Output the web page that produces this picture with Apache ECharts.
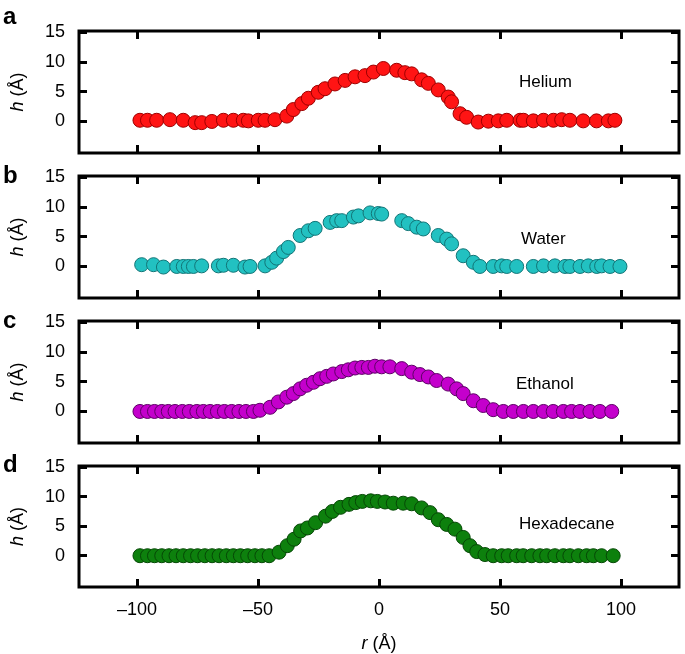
<!DOCTYPE html>
<html><head><meta charset="utf-8">
<script src="https://cdn.jsdelivr.net/npm/echarts@6/dist/echarts.min.js"></script>
<style>html,body{margin:0;padding:0;background:#fff}#c{width:685px;height:654px}</style>
</head><body><div id="c"></div>
<script>
// Data (r in Å, h in Å)
const heliumR = [-98.8,-95.7,-91.9,-86.4,-80.9,-76,-73.3,-69.1,-64.3,-60.2,-56.1,-54,-49.9,-47.1,-43,-38.1,-35.4,-31.9,-29.2,-25.1,-22.3,-18.2,-14,-9.9,-5.8,-2.3,1.8,7.3,10.7,13.5,17.6,20.4,24.5,28.6,30,33.5,36.2,41,45.2,49.3,52.8,58.3,59.7,63.8,68,72.1,75.5,78.9,84.4,89.9,94.8,97.5];
const heliumH = [0.2,0.2,0.2,0.3,0.2,-0.2,-0.2,0,0.2,0.2,0.2,0.1,0.2,0.2,0.3,0.9,2.0,3.0,3.9,4.9,5.5,6.3,6.9,7.5,7.7,8.3,8.9,8.6,8.2,8.0,7.0,6.4,5.3,4.1,3.3,1.3,0.7,-0.1,0.05,0.1,0.2,0.2,0.2,0.1,0.2,0.2,0.3,0.2,0.1,0.1,0.1,0.2];

const waterR = [-98.1,-93.2,-89.1,-83.6,-80.9,-78.8,-76.7,-73.3,-66.4,-64.3,-60.2,-55.4,-53.3,-47.1,-44.3,-42.3,-39.5,-37.5,-32.6,-29.2,-26.4,-20.2,-17.5,-15.4,-10.6,-8.5,-3.7,-0.3,1.1,9.4,12.1,15.6,18.3,24.5,28,30,34.8,39,41.7,47.2,50.7,52.8,56.9,63.8,68,72.7,76.9,78.9,83.1,86.5,90,92,95.5,99.6];
const waterH = [0.3,0.3,-0.1,0,0,0,0,0.1,0.1,0.2,0.2,-0.1,0,0.1,0.7,1.4,2.5,3.2,5.2,6.0,6.4,7.4,7.7,7.7,8.3,8.5,9.0,8.9,8.8,7.7,7.2,6.6,6.3,5.2,4.6,3.8,1.8,0.7,0,0,0.1,0,0,0,0.1,0.1,0,0,0,0.1,0,0.1,0,0];

const ethanolR = [-98.8,-95.7,-92.8,-89.8,-87.1,-84.3,-81.3,-78.4,-75.3,-72.6,-69.8,-66.8,-63.9,-60.9,-57.9,-55,-51.9,-49.2,-45,-41.6,-38.1,-35.4,-32.6,-29.9,-27.1,-24.4,-21.6,-18.9,-15.4,-12.7,-9.9,-7.1,-4.4,-1.7,1.1,4.5,9.4,13.5,16.9,20.4,23.8,28.6,32.1,34.8,39,43.1,47.2,51.4,55.5,59.7,63.8,68,72,76.2,79.6,83.1,87.2,91.3,96.2];
const ethanolH = [0,0,0,0,0,0,0,0,0,0,0,0,0,0,0,0,0,0.2,0.7,1.6,2.4,3.0,3.8,4.4,4.9,5.5,5.9,6.3,6.7,7.0,7.3,7.4,7.4,7.6,7.5,7.5,7.2,6.6,6.2,5.8,5.2,4.6,3.8,3.0,1.8,1.0,0.3,0,0,0,0,0,0,0,0,0,0,0,0];

const hexadecaneR = [-98.8,-95.7,-92.8,-89.8,-86.8,-83.9,-80.9,-77.9,-75,-72,-69,-66.1,-63.1,-60.2,-57.3,-54.3,-51.3,-48.4,-45.4,-41.3,-37.9,-35.1,-32.4,-29.6,-26.2,-22.1,-19.3,-15.9,-12.4,-9.6,-6.9,-3.4,-0.7,2.5,5.9,10,13.5,17.6,21.1,24.5,28,31.4,34.8,37.6,40.4,43.8,47.2,50.7,53.4,56.9,59.6,63.1,66.5,69.3,72.7,76.2,78.9,82.4,85.8,88.6,92,96.8];
const hexadecaneH = [0,0,0,0,0,0,0,0,0,0,0,0,0,0,0,0,0,0,0,0.6,1.7,2.8,4.2,4.7,5.6,6.7,7.5,8.2,8.7,9.0,9.2,9.3,9.2,9.1,8.9,8.9,8.8,8.1,7.3,6.1,5.3,4.5,3.1,1.7,0.7,0.2,0,0,0,0,0,0,0,0,0,0,0,0,0,0,0,0];

const xTicks = [-100,-50,0,50,100];
const yTicks = [0,5,10,15];
const panelLetters = ['a','b','c','d'];
const panelNames = ['Helium','Water','Ethanol','Hexadecane'];

const panels = [
  {r: heliumR, h: heliumH, fill: '#ff1414', border: '#9e0000'},
  {r: waterR, h: waterH, fill: '#22c1c1', border: '#127577'},
  {r: ethanolR, h: ethanolH, fill: '#c400cc', border: '#5e0066'},
  {r: hexadecaneR, h: hexadecaneH, fill: '#0d800d', border: '#064806'}
];

const font = 'Liberation Sans, Arial, Helvetica, sans-serif';
const gridLeft = 79, gridWidth = 600, gridH = 122;
const tops = [31, 176, 321, 466];
const textY = [83, 240, 385, 525];
const textX = [519, 521, 516, 519];
const letterY = [18, 177, 322, 466];

const grid = [], xAxis = [], yAxis = [], series = [], graphic = [];
panels.forEach((p, i) => {
  grid.push({left: gridLeft, top: tops[i], width: gridWidth, height: gridH,
    show: true, borderColor: '#000', borderWidth: 3, backgroundColor: 'transparent'});
  const isLast = i === panels.length - 1;
  const xBase = {type: 'value', gridIndex: i, min: -124, max: 124,
    splitLine: {show: false}, axisLine: {show: false, onZero: false},
    axisTick: {show: true, inside: true, length: 8, lineStyle: {color: '#000', width: 3}, customValues: xTicks}};
  xAxis.push(Object.assign({}, xBase, {position: 'bottom',
    axisLabel: {show: isLast, customValues: xTicks, color: '#000', fontSize: 18, fontFamily: font, margin: 14,
      formatter: v => (v < 0 ? '\u2013' + Math.abs(v) : String(v))},
    name: isLast ? '{i|r} (Å)' : '', nameLocation: 'middle', nameGap: 48,
    nameTextStyle: {color: '#000', fontSize: 18, fontFamily: font,
      rich: {i: {fontStyle: 'italic', fontSize: 18, fontFamily: font, color: '#000'}}}}));
  xAxis.push(Object.assign({}, xBase, {position: 'top', axisLabel: {show: false}}));
  const yBase = {type: 'value', gridIndex: i, min: -5.3, max: 15.2,
    splitLine: {show: false}, axisLine: {show: false, onZero: false},
    axisTick: {show: true, inside: true, length: 8, lineStyle: {color: '#000', width: 3}, customValues: yTicks}};
  yAxis.push(Object.assign({}, yBase, {position: 'left',
    axisLabel: {customValues: yTicks, color: '#000', fontSize: 18, fontFamily: font, margin: 14},
    name: '{i|h} (Å)', nameLocation: 'middle', nameGap: 52, nameRotate: 90,
    nameTextStyle: {color: '#000', fontSize: 18, fontFamily: font,
      rich: {i: {fontStyle: 'italic', fontSize: 18, fontFamily: font, color: '#000'}}}}));
  yAxis.push(Object.assign({}, yBase, {position: 'right', axisLabel: {show: false}}));
  series.push({type: 'scatter', xAxisIndex: 2 * i, yAxisIndex: 2 * i,
    data: p.r.map((r, k) => [r, p.h[k]]), symbol: 'circle', symbolSize: 14,
    itemStyle: {color: p.fill, borderColor: p.border, borderWidth: 1, opacity: 1},
    emphasis: {disabled: true}, z: 3});
  graphic.push({type: 'text', left: textX[i], top: textY[i] - 9,
    style: {text: panelNames[i], fill: '#000', fontSize: 17, fontFamily: font}});
  graphic.push({type: 'text', left: 3, top: letterY[i] - 13,
    style: {text: panelLetters[i], fill: '#000', fontSize: 24, fontWeight: 'bold', fontFamily: font}});
});

const chart = echarts.init(document.getElementById('c'), null, {renderer: 'canvas'});
chart.setOption({animation: false, backgroundColor: '#fff', grid, xAxis, yAxis, series, graphic});
</script>
</body></html>
